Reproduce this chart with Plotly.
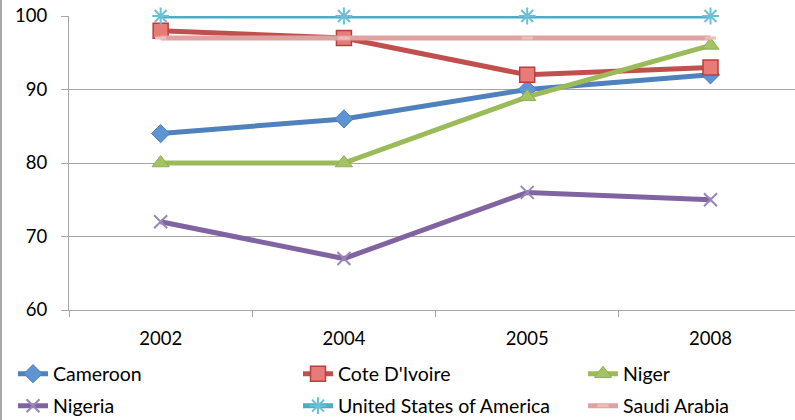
import plotly.graph_objects as go

years = ["2002", "2004", "2005", "2008"]
series_names = ["Cameroon", "Cote D'Ivoire", "Niger", "Nigeria",
                "United States of America", "Saudi Arabia"]
cameroon = [84, 86, 90, 92]
cote_divoire = [98, 97, 92, 93]
niger = [80, 80, 89, 96]
nigeria = [72, 67, 76, 75]
usa = [100, 100, 100, 100]
saudi_arabia = [97, 97, 97, 97]
y_ticks = [60, 70, 80, 90, 100]

values = [cameroon, cote_divoire, niger, nigeria, usa, saudi_arabia]
line_colors = ["#4F81BD", "#C0504D", "#9BBB59", "#8064A2", "#4BACC6", "#E0A2A1"]
markers = [
    dict(symbol="diamond", size=14, color="#5F94D2", line=dict(color="#4A7EBB", width=1)),
    dict(symbol="square", size=15, color="#E87B78", line=dict(color="#B6403D", width=1.5)),
    dict(symbol="triangle-up", size=15, color="#A2C465", line=dict(color="#8EAE50", width=1)),
    dict(symbol="x-thin-open", size=13, color="#9A86B8", line=dict(color="#9A86B8", width=2)),
    dict(symbol="asterisk-open", size=14, color="#6CC0D6", line=dict(color="#6CC0D6", width=2)),
    dict(symbol="line-ew-open", size=8, color="#EBBDBC", line=dict(color="#EBBDBC", width=3)),
]

W, H = 795, 420
ML, MT, MB = 69, 16, 110
legend_pos = [(13, 374), (298, 374), (583, 374), (13, 406), (298, 406), (583, 406)]
FONT = "Lato, Carlito, Calibri, sans-serif"

fig = go.Figure()
for i, (name, vals) in enumerate(zip(series_names, values)):
    lg = "legend" if i == 0 else f"legend{i+1}"
    fig.add_trace(go.Scatter(
        x=years, y=vals, name=name, mode="lines+markers",
        line=dict(color=line_colors[i], width=5),
        marker=markers[i], cliponaxis=False,
        legend=lg,
    ))

layout_legends = {}
for i, (lx, ly) in enumerate(legend_pos):
    key = "legend" if i == 0 else f"legend{i+1}"
    layout_legends[key] = dict(
        xref="container", yref="container",
        x=lx / W, y=1 - ly / H, xanchor="left", yanchor="middle",
        font=dict(family=FONT, size=19.5, color="#000000"),
        bgcolor="rgba(0,0,0,0)", borderwidth=0,
        itemsizing="trace", tracegroupgap=0,
    )

fig.update_layout(
    width=W, height=H,
    margin=dict(l=ML, r=0, t=MT, b=MB, pad=0, autoexpand=False),
    paper_bgcolor="white", plot_bgcolor="white",
    font=dict(family=FONT, size=18, color="#000000"),
    showlegend=True,
    **layout_legends,
)

fig.update_xaxes(
    type="category", range=[-0.5, 3.461],
    tickson="boundaries", ticks="outside", ticklen=6, tickcolor="#A6A6A6",
    showline=True, linecolor="#A6A6A6", linewidth=1,
    showgrid=False, zeroline=False, automargin=False, tickangle=0,
    ticklabelstandoff=12,
    tickfont=dict(family=FONT, size=18.5, color="#000000"),
)
fig.update_yaxes(
    range=[60, 100], tickvals=y_ticks,
    ticks="outside", ticklen=7, tickcolor="#A6A6A6",
    showline=True, linecolor="#A6A6A6", linewidth=1,
    showgrid=True, gridcolor="#A6A6A6", gridwidth=1, zeroline=False,
    automargin=False,
    ticklabelstandoff=10,
    tickfont=dict(family=FONT, size=18.5, color="#000000"),
)

# chart-area border on the left edge
fig.add_shape(type="line", xref="paper", yref="paper",
              x0=-(ML - 1) / (W - ML), x1=-(ML - 1) / (W - ML),
              y0=-MB / (H - MT - MB), y1=1 + MT / (H - MT - MB),
              line=dict(color="#8C8C8C", width=1.5))

fig.write_html("out.html")
